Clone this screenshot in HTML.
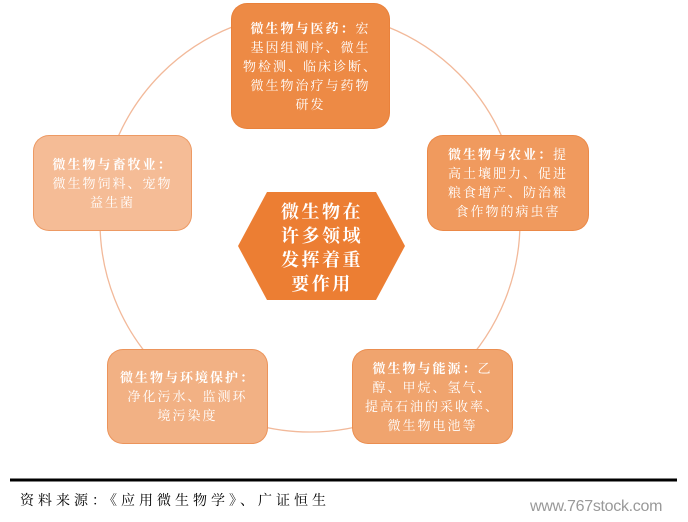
<!DOCTYPE html>
<html><head><meta charset="utf-8"><style>
body{margin:0;width:688px;height:522px;background:#fff;position:relative;overflow:hidden;font-family:"Liberation Serif","Noto Serif CJK SC",serif}
.b{position:absolute;border-radius:16px;color:#fff;font-size:13px;letter-spacing:2px;line-height:19px;text-align:center;display:flex;align-items:center;justify-content:center;box-sizing:border-box;padding:0;white-space:nowrap;border:1px solid rgba(230,120,50,.5)}
b{font-weight:bold}
</style></head><body>
<svg width="688" height="522" style="position:absolute;left:0;top:0">
<circle cx="310" cy="222" r="210" fill="none" stroke="#f2b99a" stroke-width="1.3"/>
<polygon points="267,192 376,192 405,246 376,300 267,300 238,246" fill="#ec7e33"/>
<line x1="10" y1="480" x2="677" y2="480" stroke="#000" stroke-width="3"/>
</svg>
<div class="b" style="left:231px;top:3px;width:159px;height:126px;background:#ed8a45"><div><b>微生物与医药：</b>宏<br>基因组测序、微生<br>物检测、临床诊断、<br>微生物治疗与药物<br>研发</div></div>
<div class="b" style="left:427px;top:135px;width:162px;height:96px;background:#f09a5e"><div><b>微生物与农业：</b>提<br>高土壤肥力、促进<br>粮食增产、防治粮<br>食作物的病虫害</div></div>
<div class="b" style="left:33px;top:135px;width:159px;height:96px;background:#f5bc96"><div><b>微生物与畜牧业：</b><br>微生物饲料、宠物<br>益生菌</div></div>
<div class="b" style="left:107px;top:349px;width:161px;height:95px;background:#f2b184"><div><b>微生物与环境保护：</b><br>净化污水、监测环<br>境污染度</div></div>
<div class="b" style="left:352px;top:349px;width:161px;height:95px;background:#f0a46e"><div><b>微生物与能源：</b>乙<br>醇、甲烷、氢气、<br>提高石油的采收率、<br>微生物电池等</div></div>
<div style="position:absolute;left:262px;top:200px;width:120px;color:#fff;font-size:18px;letter-spacing:2.5px;line-height:24px;text-align:center;font-weight:bold">微生物在<br>许多领域<br>发挥着重<br>要作用</div>
<div style="position:absolute;left:20px;top:490px;font-size:14px;letter-spacing:4px;color:#000">资料来源：《应用微生物学》、广证恒生</div>
<div style="position:absolute;left:530px;top:498px;font-size:16px;letter-spacing:-0.3px;color:#999;font-family:'Liberation Sans',sans-serif">www.767stock.com</div>
</body></html>
